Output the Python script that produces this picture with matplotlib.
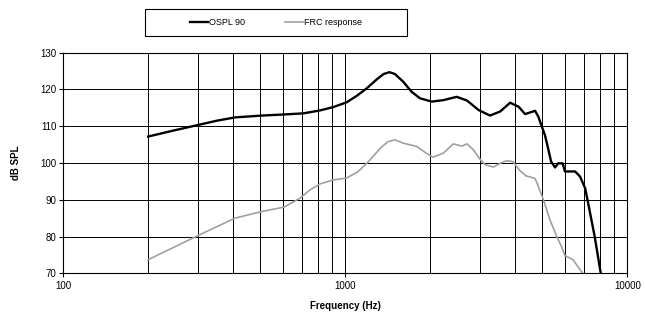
import matplotlib.pyplot as plt
from matplotlib.patches import Rectangle

plt.rcParams['font.family'] = ['Liberation Sans', 'DejaVu Sans']

# OSPL 90 (black curve)
ospl_f = [200, 245, 303, 350, 406, 505, 606, 710, 813, 906, 1010, 1095, 1191, 1295,
          1367, 1434, 1500, 1605, 1717, 1840, 2025, 2227, 2483, 2700, 2970, 3260,
          3539, 3842, 4118, 4340, 4708, 4837, 4970, 5103, 5236, 5365, 5545, 5685,
          5900, 6010, 6530, 6800, 7090, 7300, 7660, 8050]
ospl_db = [107.2, 108.8, 110.4, 111.5, 112.4, 112.9, 113.2, 113.5, 114.3, 115.2, 116.5,
           118.2, 120.3, 122.8, 124.2, 124.7, 124.2, 122.1, 119.4, 117.6, 116.7, 117.1,
           118.0, 117.0, 114.4, 112.9, 114.0, 116.4, 115.3, 113.3, 114.2, 112.6, 110.0,
           107.6, 104.0, 100.4, 98.8, 99.9, 99.9, 97.7, 97.7, 96.3, 93.1, 88.2, 80.0,
           70.0]

# FRC response (grey curve)
frc_f = [200, 303, 406, 505, 606, 690, 750, 813, 906, 1010, 1112, 1209, 1330, 1415,
         1500, 1605, 1791, 1934, 2050, 2227, 2415, 2587, 2700, 2845, 3003, 3140,
         3350, 3539, 3720, 3930, 4140, 4370, 4708, 4837, 5040, 5320, 5620, 5840,
         6010, 6420, 6680, 6950]
frc_db = [73.7, 80.4, 85.0, 86.8, 88.0, 90.4, 92.7, 94.3, 95.4, 95.9, 97.7, 100.4,
          104.0, 105.8, 106.3, 105.4, 104.5, 102.7, 101.6, 102.7, 105.2, 104.6, 105.2,
          103.6, 101.0, 99.5, 98.9, 99.9, 100.6, 100.4, 98.1, 96.5, 95.8, 93.6, 90.0,
          84.5, 80.0, 77.3, 74.8, 73.7, 71.8, 70.0]

fig = plt.figure(figsize=(6.45, 3.21), dpi=100)
ax = fig.add_axes([0.0981, 0.1486, 0.8745, 0.6872])

ax.plot(ospl_f, ospl_db, color='black', lw=1.7, label='OSPL 90', zorder=3,
        solid_joinstyle='round')
ax.plot(frc_f, frc_db, color='#a0a0a0', lw=1.2, label='FRC response', zorder=3,
        solid_joinstyle='round')

ax.set_xscale('log')
ax.set_xlim(100, 10000)
ax.set_ylim(70, 130)
ax.set_yticks(range(70, 131, 10))
ax.set_xticks([100, 1000, 10000])
ax.set_xticklabels(['100', '1000', '10000'])
ax.set_xticks([k * d for d in (100, 1000) for k in range(2, 10)], minor=True)
ax.set_xticklabels([], minor=True)
ax.tick_params(axis='x', which='minor', length=0)
ax.tick_params(axis='x', which='major', length=3, width=0.8, labelsize=7, pad=2.5)
ax.tick_params(axis='y', length=3, width=0.8, labelsize=7, pad=2)
ax.grid(True, which='both', axis='x', color='black', lw=0.7)
ax.grid(True, which='major', axis='y', color='black', lw=0.7)
for s in ax.spines.values():
    s.set_linewidth(0.8)

ax.set_xlabel('Frequency (Hz)', fontsize=7, fontweight='bold', labelpad=7)
ax.set_ylabel('dB SPL', fontsize=7, fontweight='bold', labelpad=14)

# legend above the plot, in a plain box
fig.legend(loc='center', bbox_to_anchor=(0.428, 0.93), ncol=2, frameon=False,
           fontsize=6.5, handlelength=2.0, handletextpad=0.1, columnspacing=4.5)
fig.patches.append(Rectangle((145 / 645, 1 - 36 / 321), 262 / 645, 27 / 321,
                             transform=fig.transFigure, fill=False,
                             edgecolor='black', lw=0.8))

fig.savefig('out.png', dpi=100)
